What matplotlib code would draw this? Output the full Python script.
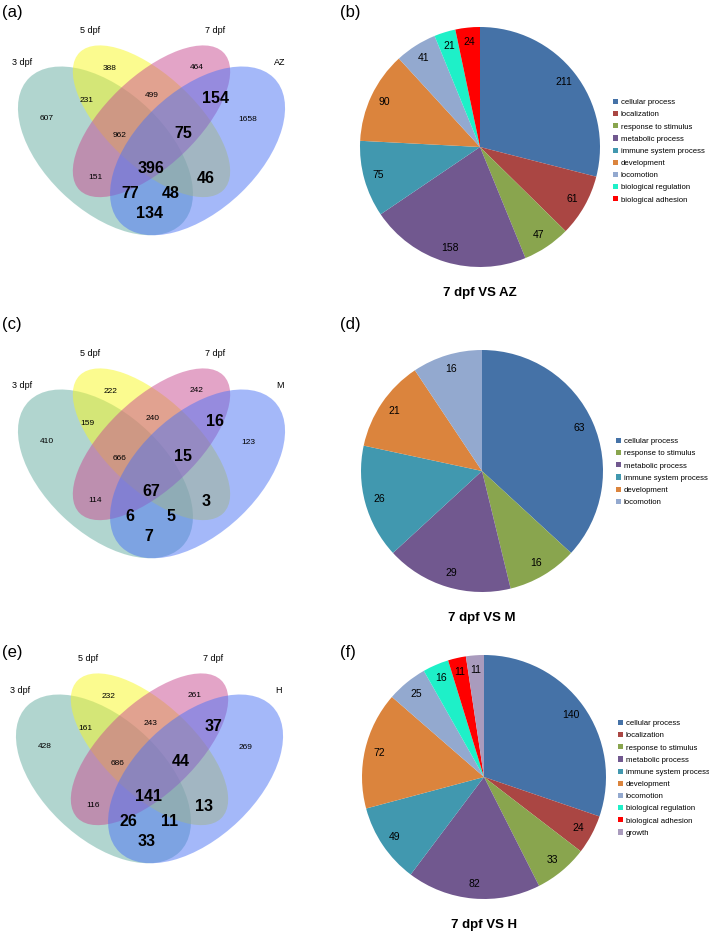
import numpy as np
import matplotlib.pyplot as plt
from matplotlib.patches import Ellipse, Patch

plt.rcParams['font.family'] = ['Liberation Sans', 'DejaVu Sans']

# ---- data ----
regions = ['3', '5', '7', 'X', '35', '57', '7X', '357', '57X', '37', '357X', '5X', '37X', '35X', '3X']
sets_a = ['3 dpf', '5 dpf', '7 dpf', 'AZ']
sets_c = ['3 dpf', '5 dpf', '7 dpf', 'M']
sets_e = ['3 dpf', '5 dpf', '7 dpf', 'H']
counts_a = [607, 388, 464, 1658, 231, 499, 154, 962, 75, 151, 396, 46, 77, 48, 134]
counts_c = [410, 222, 242, 123, 159, 240, 16, 666, 15, 114, 67, 3, 6, 5, 7]
counts_e = [428, 232, 261, 269, 161, 243, 37, 686, 44, 116, 141, 13, 26, 11, 33]

terms_b = ['cellular process', 'localization', 'response to stimulus', 'metabolic process',
           'immune system process', 'development', 'locomotion', 'biological regulation',
           'biological adhesion']
vals_b = [211, 61, 47, 158, 75, 90, 41, 21, 24]
terms_d = ['cellular process', 'response to stimulus', 'metabolic process',
           'immune system process', 'development', 'locomotion']
vals_d = [63, 16, 29, 26, 21, 16]
terms_f = terms_b + ['growth']
vals_f = [140, 24, 33, 82, 49, 72, 25, 16, 11, 11]

# ---- style ----
term_colors = {
    'cellular process': '#4572A7', 'localization': '#AA4643', 'response to stimulus': '#89A54E',
    'metabolic process': '#71588F', 'immune system process': '#4198AF', 'development': '#DB843D',
    'locomotion': '#93A9CF', 'biological regulation': '#1EF0C8', 'biological adhesion': '#FF0000',
    'growth': '#A99BBD'}
venn_colors = ['#65ADA1', '#F8F820', '#C94B91', '#4B73F5']

# ellipse geometry in unit square (x, y, semi-a, semi-b, angle)
ellipses = [(0.35, 0.47, 0.35, 0.20, 135), (0.50, 0.57, 0.33, 0.15, 135),
            (0.50, 0.57, 0.33, 0.15, 45), (0.65, 0.47, 0.35, 0.20, 45)]
label_pos = {'3': (0.160, 0.579), '5': (0.365, 0.748), '7': (0.648, 0.752), 'X': (0.814, 0.576),
             '35': (0.290, 0.640), '57': (0.502, 0.657), '7X': (0.707, 0.647),
             '357': (0.397, 0.522), '57X': (0.603, 0.529), '37': (0.316, 0.380),
             '357X': (0.498, 0.410), '5X': (0.678, 0.377), '37X': (0.430, 0.326),
             '35X': (0.564, 0.326), '3X': (0.492, 0.258)}
cat_pos = [(0.078, 0.769), (0.300, 0.877), (0.707, 0.877), (0.919, 0.769)]

W, H = 709, 932
fig = plt.figure(figsize=(W / 100, H / 100), dpi=100)


def px_axes(x0, y0, w, h):
    return fig.add_axes([x0 / W, 1 - (y0 + h) / H, w / W, h / H])


def venn(x0, y0, names, counts):
    ax = px_axes(x0, y0, 307, 296)
    for (cx, cy, a, b, ang), c in zip(ellipses, venn_colors):
        ax.add_patch(Ellipse((cx, cy), 2 * a, 2 * b, angle=ang, facecolor=c,
                             edgecolor='none', alpha=0.5))
    for r, n in zip(regions, counts):
        x, y = label_pos[r]
        if 'X' in r and r != 'X':
            ax.text(x, y, str(n), ha='center', va='center', fontsize=11.5, fontweight='bold')
        else:
            ax.text(x, y, str(n), ha='center', va='center', fontsize=6)
    for (x, y), s in zip(cat_pos, names):
        ax.text(x, y, s, ha='center', va='center', fontsize=6.5)
    ax.set_xlim(0, 1)
    ax.set_ylim(0, 1)
    ax.axis('off')


def pie(cx, cy, r, terms, vals, title, leg_x, leg_y):
    ax = px_axes(cx - r, cy - r, 2 * r, 2 * r)
    total = sum(vals)
    ax.pie(vals, colors=[term_colors[t] for t in terms], startangle=90,
           counterclock=False, autopct=lambda p: '%d' % round(p * total / 100),
           pctdistance=0.88, wedgeprops=dict(linewidth=0),
           textprops=dict(fontsize=7.5, color='black'))
    ax.set_xlim(-1, 1)
    ax.set_ylim(-1, 1)
    handles = [Patch(facecolor=term_colors[t], edgecolor='none') for t in terms]
    ax.legend(handles, terms, loc='upper left', bbox_to_anchor=(leg_x / W, 1 - leg_y / H),
              bbox_transform=fig.transFigure, frameon=False, fontsize=5.6,
              handlelength=0.65, handleheight=0.65, handletextpad=0.35,
              labelspacing=0.62, borderaxespad=0, borderpad=0)
    fig.text(cx / W, 1 - (cy + r + 26) / H, title, ha='center', va='center',
             fontsize=9.5, fontweight='bold')


venn(-2, -6, sets_a, counts_a)
venn(-2, 317, sets_c, counts_c)
venn(-4, 622, sets_e, counts_e)

pie(480, 147, 120, terms_b, vals_b, '7 dpf VS AZ', 613, 99)
pie(482, 471, 121, terms_d, vals_d, '7 dpf VS M', 616, 438)
pie(484, 777, 122, terms_f, vals_f, '7 dpf VS H', 618, 720)

for s, (x, y) in zip('abcdef', [(2, 12), (340, 12), (2, 325), (340, 325), (2, 652), (340, 652)]):
    fig.text(x / W, 1 - y / H, '(%s)' % s, ha='left', va='center', fontsize=12)

fig.savefig('out.png', dpi=100)
